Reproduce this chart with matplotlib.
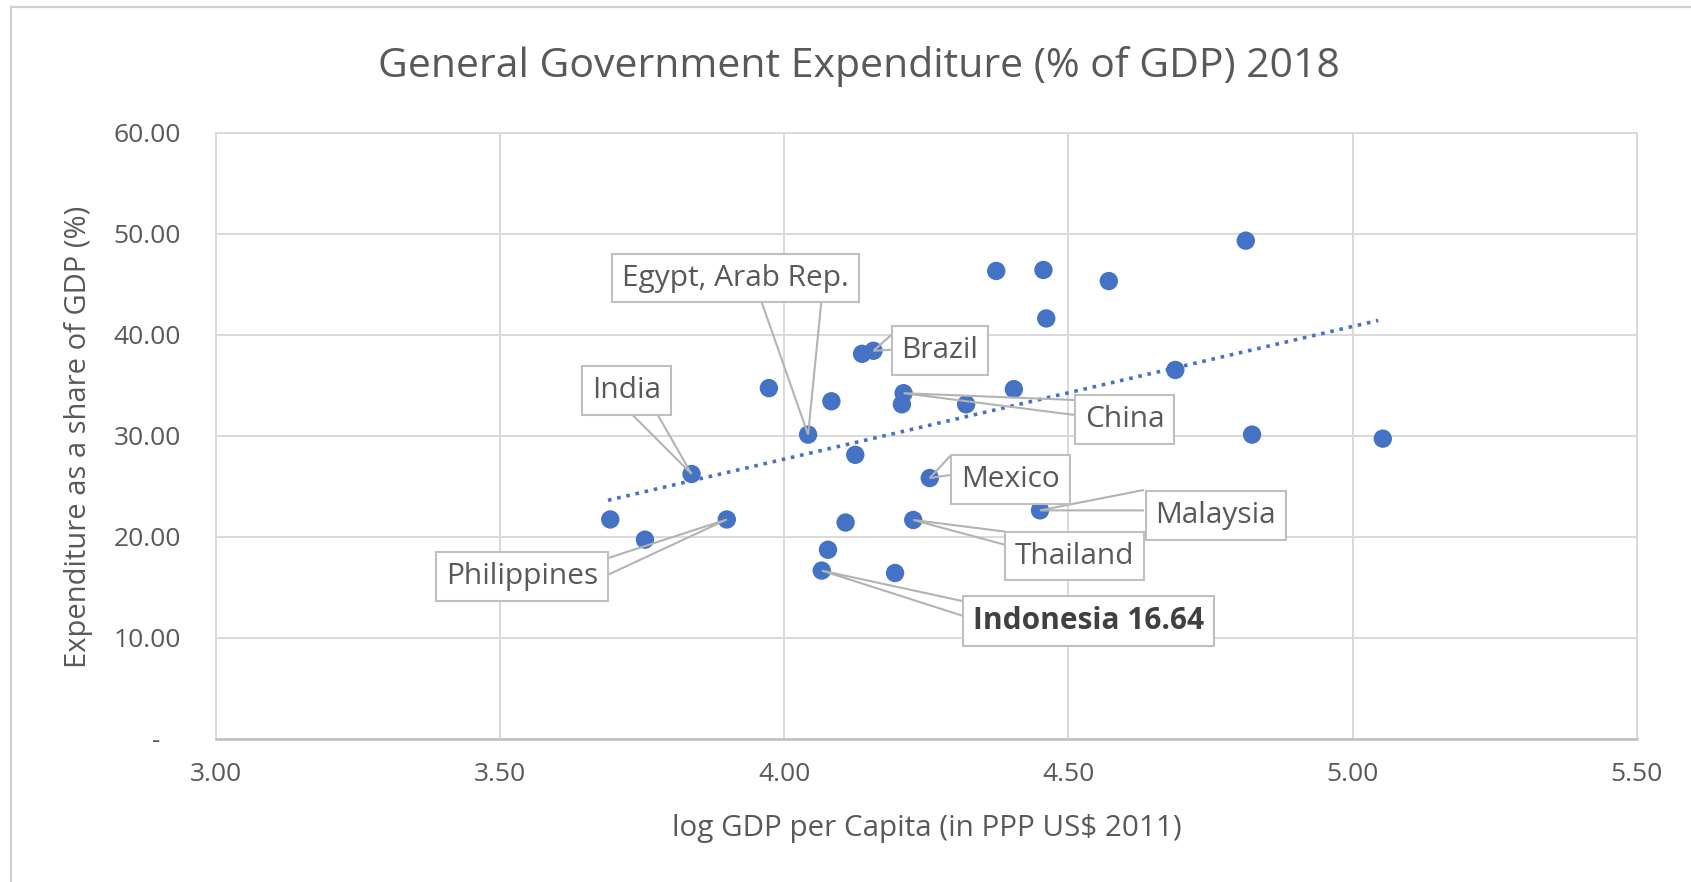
import matplotlib
matplotlib.use('Agg')
import matplotlib.pyplot as plt
from matplotlib.lines import Line2D
import numpy as np

# ---------------- data ----------------
x_vals = [3.694, 3.755, 3.837, 3.899, 3.973, 4.042, 4.083, 4.125, 4.108, 4.077,
          4.066, 4.137, 4.157, 4.210, 4.207, 4.195, 4.227, 4.256, 4.320, 4.373,
          4.404, 4.450, 4.456, 4.461, 4.571, 4.688, 4.812, 4.823, 5.053]
y_vals = [21.7, 19.7, 26.2, 21.7, 34.7, 30.1, 33.4, 28.1, 21.4, 18.7,
          16.64, 38.1, 38.4, 34.2, 33.1, 16.4, 21.65, 25.8, 33.1, 46.3,
          34.6, 22.6, 46.4, 41.6, 45.3, 36.5, 49.3, 30.1, 29.7]

trend_x = [3.69, 5.045]
trend_y = [23.6, 41.4]

label_texts = ['Egypt, Arab Rep.', 'India', 'Philippines', 'Brazil', 'China',
               'Mexico', 'Malaysia', 'Thailand', 'Indonesia 16.64']
label_point_idx = [5, 2, 3, 12, 13, 17, 21, 16, 10]

x_ticks = [3.00, 3.50, 4.00, 4.50, 5.00, 5.50]
y_ticks = [0, 10, 20, 30, 40, 50, 60]

title = 'General Government Expenditure (% of GDP) 2018'
x_label = 'log GDP per Capita (in PPP US$ 2011)'
y_label = 'Expenditure as a share of GDP (%)'

# ---------------- layout (positions of label boxes / callouts) ----------------
box_centers = [(3.914, 45.6), (3.722, 34.5), (3.539, 16.07), (4.274, 38.4),
               (4.599, 31.58), (4.398, 25.64), (4.759, 22.11), (4.511, 18.07),
               (4.5346, 11.67)]
callout_bases = [((3.961, 43.1), (4.065, 43.1)),
                 ((3.734, 32.0), (3.778, 32.0)),
                 ((3.689, 17.86), (3.689, 16.2)),
                 ((4.189, 40.0), (4.189, 38.5)),
                 ((4.513, 33.52), (4.513, 32.03)),
                 ((4.292, 27.98), (4.292, 26.1)),
                 ((4.631, 24.6), (4.631, 22.6)),
                 ((4.388, 20.50), (4.388, 19.2)),
                 ((4.318, 13.57), (4.318, 12.09))]
bold_flags = [False] * 8 + [True]

BLUE = '#4472C4'
GREY_TXT = '#595959'
GRID = '#d9d9d9'

plt.rcParams['font.family'] = ['Open Sans', 'DejaVu Sans']

fig = plt.figure(figsize=(16.91, 8.82), dpi=100)
ax = fig.add_axes([0.1276, 0.1625, 0.8404, 0.6872])

ax.set_xlim(3.0, 5.5)
ax.set_ylim(0, 60)
ax.set_xticks(x_ticks)
ax.set_yticks(y_ticks)
ax.set_xticklabels([f'{v:.2f}' for v in x_ticks])
ax.set_yticklabels(['-   ' if v == 0 else f'{v:.2f}' for v in y_ticks])
ax.tick_params(axis='both', length=0, labelsize=19, labelcolor=GREY_TXT)
ax.tick_params(axis='y', pad=25)
ax.tick_params(axis='x', pad=17)
ax.grid(True, color=GRID, lw=1.4, zorder=0)
ax.set_axisbelow(True)
for s in ['left', 'right', 'top']:
    ax.spines[s].set_color(GRID)
    ax.spines[s].set_linewidth(1.4)
ax.spines['bottom'].set_color('#bfbfbf')
ax.spines['bottom'].set_linewidth(1.8)

# trendline
ax.plot(trend_x, trend_y, linestyle=(0, (1, 1.6)), color=BLUE, lw=2.6, zorder=2)

# points
ax.scatter(x_vals, y_vals, s=175, color=BLUE, edgecolors='none', zorder=3)

# callouts
for txt, idx, c, bases, bold in zip(label_texts, label_point_idx, box_centers,
                                    callout_bases, bold_flags):
    px, py = x_vals[idx], y_vals[idx]
    (b1x, b1y), (b2x, b2y) = bases
    ax.plot([b1x, px, b2x], [b1y, py, b2y], color='#b3b3b3', lw=1.5, zorder=4,
            solid_joinstyle='miter')
    ax.text(c[0], c[1], txt, ha='center', va='center', fontsize=21.5,
            color=GREY_TXT if not bold else '#404040',
            fontweight='bold' if bold else 'normal', zorder=5,
            bbox=dict(boxstyle='square,pad=0.33', fc='white', ec='#bfbfbf', lw=1.5))

fig.text(0.508, 0.925, title, ha='center', va='center', fontsize=29.5, color=GREY_TXT)
fig.text(0.548, 0.0610, x_label, ha='center', va='center', fontsize=21.3, color=GREY_TXT)
fig.text(0.0463, 0.5046, y_label, ha='center', va='center', rotation=90,
         fontsize=21.0, color=GREY_TXT)

# chart-area border (left and top visible)
fig.add_artist(Line2D([11 / 1691, 11 / 1691], [0, 1 - 7 / 882], color='#d0d0d0', lw=1.6,
                      transform=fig.transFigure))
fig.add_artist(Line2D([11 / 1691, 1], [1 - 7 / 882, 1 - 7 / 882], color='#d0d0d0', lw=1.6,
                      transform=fig.transFigure))

fig.savefig('out.png', dpi=100, facecolor='white')
